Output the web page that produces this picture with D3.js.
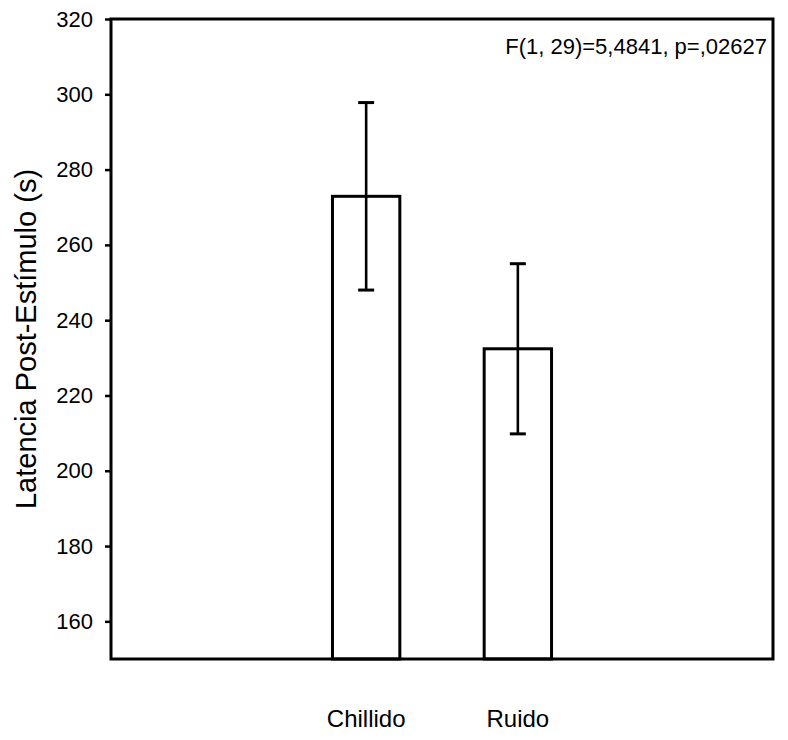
<!DOCTYPE html>
<html>
<head>
<meta charset="utf-8">
<script src="https://cdnjs.cloudflare.com/ajax/libs/d3/7.8.5/d3.min.js"></script>
<style>
  html, body { margin: 0; padding: 0; background: #fff; }
  svg { display: block; font-family: "Liberation Sans", Arial, sans-serif; }
</style>
</head>
<body>
<div id="chart"></div>
<script>
"use strict";

/* ── Data ─────────────────────────────────────────────── */
const categories = ["Chillido", "Ruido"];
const means      = [272.9, 232.4];
const errors     = [24.9, 22.6];
const yTicks     = [160, 180, 200, 220, 240, 260, 280, 300, 320];
const yDomain    = [150, 320];
const statText   = "F(1, 29)=5,4841, p=,02627";
const yTitle     = "Latencia Post-Estímulo (s)";

/* ── Layout ───────────────────────────────────────────── */
const W = 788, H = 740;
const plot = { left: 111, right: 773, top: 19, bottom: 659 };

const svg = d3.select("#chart").append("svg")
  .attr("width", W).attr("height", H);

const y = d3.scaleLinear().domain(yDomain).range([plot.bottom, plot.top]);
const x = d3.scaleBand().domain(categories)
  .range([plot.left, plot.right])
  .paddingInner(0.556).paddingOuter(1.46);

const rows = categories.map(function (c, i) {
  return { cat: c, mean: means[i], err: errors[i] };
});

/* ── Bars ─────────────────────────────────────────────── */
svg.append("g").selectAll("rect").data(rows).join("rect")
  .attr("x", function (d) { return x(d.cat); })
  .attr("y", function (d) { return y(d.mean); })
  .attr("width", x.bandwidth())
  .attr("height", function (d) { return y(yDomain[0]) - y(d.mean); })
  .attr("fill", "#fff")
  .attr("stroke", "#000")
  .attr("stroke-width", 3);

/* ── Error bars ───────────────────────────────────────── */
const eb = svg.append("g").attr("stroke", "#000").attr("stroke-width", 2.6);
const capW = 8;
rows.forEach(function (d) {
  const cx = x(d.cat) + x.bandwidth() / 2;
  eb.append("line").attr("x1", cx).attr("x2", cx)
    .attr("y1", y(d.mean + d.err)).attr("y2", y(d.mean - d.err));
  [d.mean + d.err, d.mean - d.err].forEach(function (v) {
    eb.append("line").attr("x1", cx - capW).attr("x2", cx + capW)
      .attr("y1", y(v)).attr("y2", y(v)).attr("stroke-width", 3);
  });
});

/* ── Frame ────────────────────────────────────────────── */
svg.append("rect")
  .attr("x", plot.left).attr("y", plot.top)
  .attr("width", plot.right - plot.left)
  .attr("height", plot.bottom - plot.top)
  .attr("fill", "none").attr("stroke", "#000").attr("stroke-width", 3);

/* ── Y axis ───────────────────────────────────────────── */
const yAxis = svg.append("g")
  .attr("transform", "translate(" + plot.left + ",0)")
  .call(d3.axisLeft(y).tickValues(yTicks).tickSize(6).tickPadding(12)
    .tickFormat(d3.format("d")));
yAxis.select(".domain").remove();
yAxis.selectAll(".tick line").attr("stroke", "#000").attr("stroke-width", 2.5);
yAxis.selectAll(".tick text")
  .attr("font-family", "Liberation Sans, Arial, sans-serif")
  .attr("font-size", 22).attr("fill", "#000");

svg.append("text")
  .attr("transform", "translate(36," + ((plot.top + plot.bottom) / 2) + ") rotate(-90)")
  .attr("text-anchor", "middle")
  .attr("font-size", 29).attr("fill", "#000")
  .text(yTitle);

/* ── Category labels ──────────────────────────────────── */
svg.append("g").selectAll("text").data(rows).join("text")
  .attr("x", function (d) { return x(d.cat) + x.bandwidth() / 2; })
  .attr("y", 727)
  .attr("text-anchor", "middle")
  .attr("font-size", 24).attr("fill", "#000")
  .text(function (d) { return d.cat; });

/* ── Stats annotation ─────────────────────────────────── */
svg.append("text")
  .attr("x", 767).attr("y", 54)
  .attr("text-anchor", "end")
  .attr("font-size", 22).attr("fill", "#000")
  .text(statText);
</script>
</body>
</html>
